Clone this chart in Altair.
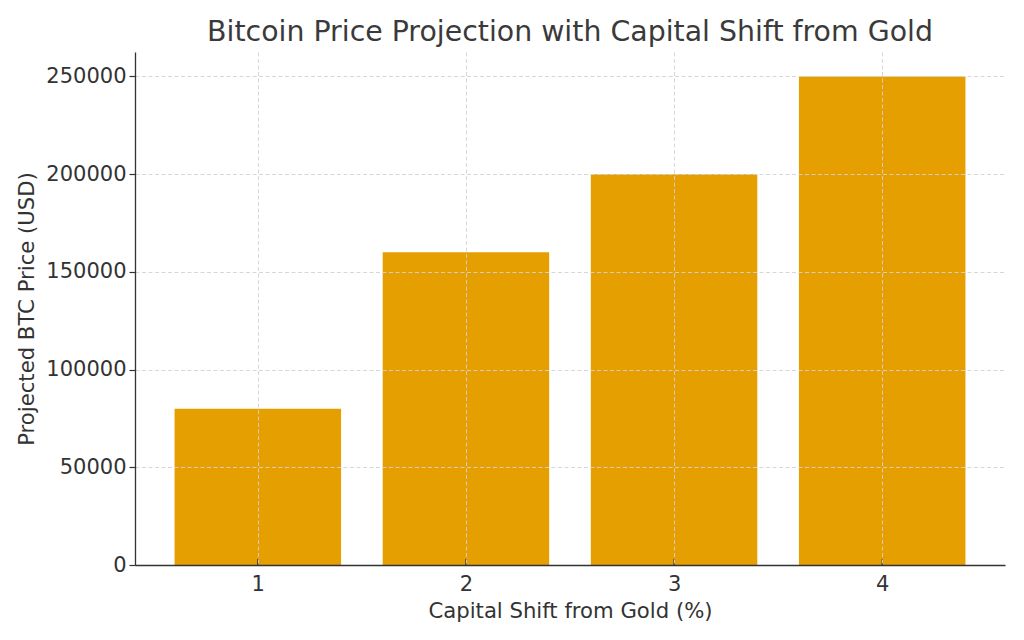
import altair as alt
import pandas as pd

shift = [1, 2, 3, 4]
price = [80000, 160000, 200000, 250000]

df = pd.DataFrame({"shift": shift, "price": price})

W, H = 870, 513
FONT = "DejaVu Sans"
TXT = "#333333"

xscale = alt.Scale(domain=[0.41, 4.59], nice=False, zero=False)
yscale = alt.Scale(domain=[0, 262500], nice=False)

base = alt.Chart(df)

bars = base.transform_calculate(
    x0="datum.shift - 0.4", x1="datum.shift + 0.4"
).mark_rect(color="#E69F00").encode(
    x=alt.X("x0:Q", scale=xscale,
            axis=alt.Axis(values=shift, format="d", title="Capital Shift from Gold (%)",
                          tickSize=0, labelPadding=8, titlePadding=6,
                          grid=True, gridDash=[4, 2.5], gridColor="#d3d3d3", gridWidth=0.9,
                          domainColor=TXT, domainWidth=1.3, zindex=1)),
    x2="x1:Q",
    y=alt.Y("price:Q", scale=yscale,
            axis=alt.Axis(values=[0, 50000, 100000, 150000, 200000, 250000], format="d",
                          title="Projected BTC Price (USD)",
                          tickSize=6, tickColor=TXT, tickWidth=1.2, labelPadding=3, titlePadding=8,
                          grid=True, gridDash=[4, 2.5], gridColor="#d3d3d3", gridWidth=0.9,
                          domainColor=TXT, domainWidth=1.3, zindex=1)),
)

ticks = base.mark_rule(color=TXT, strokeWidth=1.2).encode(
    x=alt.X("shift:Q", scale=xscale),
    y=alt.value(H - 6),
    y2=alt.value(H),
)

chart = alt.layer(bars, ticks).properties(
    width=W, height=H,
    title=alt.TitleParams("Bitcoin Price Projection with Capital Shift from Gold",
                          fontSize=28.4, font=FONT, color="#3a3a3a", fontWeight="normal", offset=5),
    autosize=alt.AutoSizeParams(type="none"),
    padding={"left": 127, "top": 44, "right": 11, "bottom": 67},
).configure_view(stroke=None).configure_axis(
    labelFont=FONT, titleFont=FONT, labelFontSize=21, titleFontSize=21.2,
    labelColor=TXT, titleColor=TXT, titleFontWeight="normal",
)

chart.save("out.html", embed_options={"renderer": "svg", "actions": False})
